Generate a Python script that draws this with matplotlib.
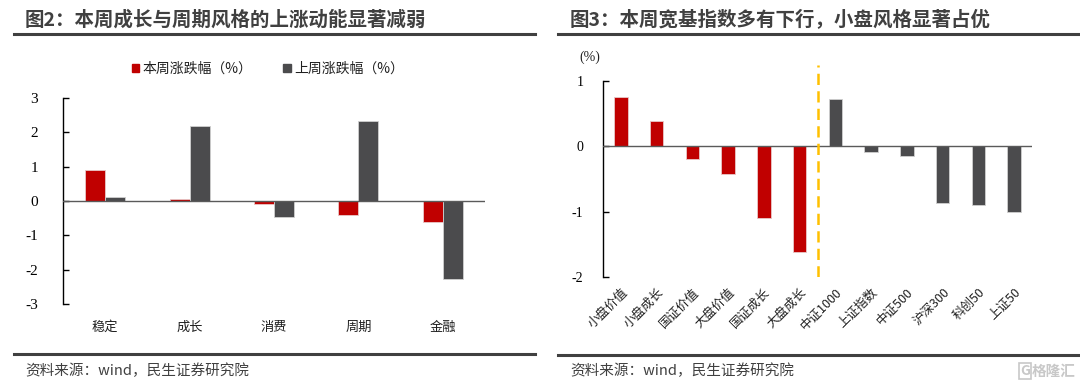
import matplotlib
matplotlib.use("Agg")
import matplotlib.pyplot as plt
from matplotlib.patches import Patch
from matplotlib.lines import Line2D

# ---------------- data ----------------
style_cats = ["稳定", "成长", "消费", "周期", "金融"]
this_week = [0.90, 0.05, -0.09, -0.41, -0.62]
last_week = [0.12, 2.19, -0.47, 2.33, -2.27]

index_cats = ["小盘价值", "小盘成长", "国证价值", "大盘价值", "国证成长", "大盘成长",
              "中证1000", "上证指数", "中证500", "沪深300", "科创50", "上证50"]
index_vals = [0.76, 0.39, -0.20, -0.43, -1.10, -1.61,
              0.73, -0.08, -0.15, -0.86, -0.90, -1.01]
n_style_idx = 6  # first six are style indices (red), rest broad indices (gray)

left_yticks = [-3, -2, -1, 0, 1, 2, 3]
right_yticks = [-2, -1, 0, 1]

title_left = "图2：本周成长与周期风格的上涨动能显著减弱"
title_right = "图3：本周宽基指数多有下行，小盘风格显著占优"
legend_labels = ["本周涨跌幅（%）", "上周涨跌幅（%）"]
source_text = "资料来源：wind，民生证券研究院"

RED = "#C00000"
GRAY = "#4B4B4D"
DARK = "#404040"
CJK = ["Noto Sans CJK SC", "DejaVu Sans"]
SERIF = ["Liberation Serif", "DejaVu Serif"]

plt.rcParams["font.family"] = CJK

W, H = 1080, 386
fig = plt.figure(figsize=(W / 100, H / 100), dpi=100)


def fx(px):
    return px / W


def fy(py):
    return 1 - py / H


# ---------------- titles, rules, sources ----------------
fig.text(fx(25), fy(20), title_left, fontsize=14, fontweight="bold", color=DARK,
         ha="left", va="center", family=CJK)
fig.text(fx(570), fy(20), title_right, fontsize=14, fontweight="bold", color=DARK,
         ha="left", va="center", family=CJK)
for x0, x1, y in [(14, 535, 34), (558, 1080, 34), (14, 535, 354), (558, 1080, 355)]:
    fig.add_artist(Line2D([fx(x0), fx(x1)], [fy(y), fy(y)], color=DARK, lw=2.2,
                          transform=fig.transFigure))
fig.text(fx(25), fy(371), source_text, fontsize=10.5, color=DARK, ha="left", va="center")
fig.text(fx(570), fy(371), source_text, fontsize=10.5, color=DARK, ha="left", va="center")
fig.text(fx(1076), fy(371), "格隆汇", fontsize=10.5, color="#C8C8C8", ha="right",
         va="center", fontweight="bold")
fig.text(fx(1030), fy(371), "G", fontsize=10, color="#C8C8C8", ha="right", va="center",
         fontweight="bold",
         bbox=dict(boxstyle="square,pad=0.1", fc="none", ec="#C8C8C8", lw=1.2))

# ---------------- left chart ----------------
axL = fig.add_axes([fx(63), fy(304), fx(485 - 63), (304 - 98) / H])
bw = 0.237
xs = list(range(len(style_cats)))
axL.bar([x - bw / 2 for x in xs], this_week, width=bw, color=RED,
        edgecolor="#E8C8C8", lw=0.6, zorder=2)
axL.bar([x + bw / 2 for x in xs], last_week, width=bw, color=GRAY,
        edgecolor="#D0D0D0", lw=0.6, zorder=2)
axL.set_xlim(-0.5, len(style_cats) - 0.5)
axL.set_ylim(-3, 3)
axL.axhline(0, color="#5A5A5A", lw=1.0, zorder=3)
for s in ["top", "right", "bottom"]:
    axL.spines[s].set_visible(False)
axL.spines["left"].set_color("black")
axL.spines["left"].set_linewidth(1.0)
axL.set_yticks(left_yticks)
axL.set_yticklabels([str(v) for v in left_yticks], family=SERIF, fontsize=11)
axL.tick_params(axis="y", direction="in", length=4, width=1, pad=18, colors="black")
axL.set_xticks(xs)
axL.set_xticklabels(style_cats, fontsize=9.5, color="#202020")
axL.tick_params(axis="x", length=0, pad=12)

handles = [Patch(facecolor=RED, edgecolor=RED), Patch(facecolor=GRAY, edgecolor=GRAY)]
fig.legend(handles, legend_labels, loc="center", bbox_to_anchor=(fx(268), fy(69)),
           ncol=2, frameon=False, fontsize=10, handlelength=0.55, handleheight=0.55,
           handletextpad=0.25, columnspacing=2.2, labelcolor="#202020")

# ---------------- right chart ----------------
axR = fig.add_axes([fx(603), fy(277), fx(1032 - 603), (277 - 64.7) / H])
xr = list(range(len(index_cats)))
colors = [RED if i < n_style_idx else GRAY for i in xr]
edges = ["#E8C8C8" if i < n_style_idx else "#D0D0D0" for i in xr]
axR.bar(xr, index_vals, width=0.38, color=colors, edgecolor=edges, lw=0.6, zorder=2)
axR.set_xlim(-0.5, len(index_cats) - 0.5)
axR.set_ylim(-2, 1.25)
axR.axhline(0, color="#5A5A5A", lw=1.0, zorder=3)
axR.axvline(n_style_idx - 0.5, ymin=0, ymax=1, color="#FFC000", lw=1.8,
            dashes=(4.5, 2.5), zorder=4)
for s in ["top", "right", "bottom"]:
    axR.spines[s].set_visible(False)
axR.spines["left"].set_bounds(-2, 1)
axR.spines["left"].set_color("black")
axR.spines["left"].set_linewidth(1.0)
axR.set_yticks(right_yticks)
axR.set_yticklabels([str(v) for v in right_yticks], family=SERIF, fontsize=10)
axR.tick_params(axis="y", direction="in", length=4, width=1, pad=14, colors="black")
axR.set_xticks(xr)
axR.set_xticklabels(index_cats, fontsize=9, rotation=45, ha="right",
                    rotation_mode="anchor", color="#202020")
axR.tick_params(axis="x", length=0, pad=6)
for lbl in axR.get_xticklabels():
    if any(ch.isdigit() for ch in lbl.get_text()):
        lbl.set_family(["Noto Sans CJK SC", "DejaVu Sans"])
fig.text(fx(590), fy(57), "(%)", fontsize=10, family=SERIF, ha="center", va="center",
         color="#202020")

fig.savefig("out.png", dpi=100)
